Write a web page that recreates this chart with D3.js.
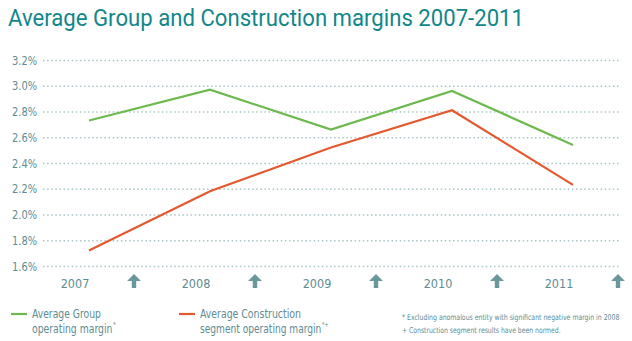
<!DOCTYPE html>
<html>
<head>
<meta charset="utf-8">
<script src="https://cdn.jsdelivr.net/npm/d3@7"></script>
<style>
  body { margin: 0; background: #fff; }
  text { font-family: "DejaVu Sans Condensed", "Roboto", sans-serif; }
</style>
</head>
<body>
<script>
// chart data
var years = ["2007", "2008", "2009", "2010", "2011"];
var groupMargin = [2.73, 2.97, 2.66, 2.96, 2.54];
var constructionMargin = [1.72, 2.18, 2.52, 2.81, 2.23];
var yTicks = [1.6, 1.8, 2.0, 2.2, 2.4, 2.6, 2.8, 3.0, 3.2];

var w = 632, h = 341;
var teal = "#5e8c92";

var svg = d3.select("body").append("svg")
    .attr("width", w)
    .attr("height", h);

// squeeze a text horizontally to a given width (condensed look)
function fit(sel, x0, y0, width) {
    sel.each(function(d) {
        var t = d3.select(this);
        var wd = typeof width === "function" ? width(d) : width;
        var k = wd / this.getComputedTextLength();
        t.attr("x", 0).attr("y", 0)
         .attr("transform", "translate(" + x0 + "," + y0 + ") scale(" + k + ",1)");
    });
}

// title
svg.append("text")
    .attr("x", 8)
    .attr("y", 26)
    .attr("font-size", "23px")
    .attr("fill", "#12878a")
    .style("font-family", "Roboto, sans-serif")
    .attr("textLength", 516)
    .attr("lengthAdjust", "spacingAndGlyphs")
    .text("Average Group and Construction margins 2007-2011");

var x = d3.scalePoint().domain(years).range([89, 573]);
var y = d3.scaleLinear().domain([1.6, 3.2]).range([266, 60]);

// gridlines + labels
var yAxis = svg.append("g")
    .attr("transform", "translate(43,0)")
    .call(d3.axisLeft(y)
        .tickValues(yTicks)
        .tickSize(-578)
        .tickPadding(6)
        .tickFormat(function(d) { return d3.format(".1f")(d) + "%"; }));
yAxis.select(".domain").remove();
yAxis.selectAll(".tick line")
    .attr("stroke", "#a9c6c8")
    .attr("stroke-width", 1.5)
    .attr("stroke-dasharray", "1.5,2.6");
yAxis.selectAll(".tick text")
    .attr("fill", teal)
    .attr("font-size", "12.5px")
    .attr("textLength", 25)
    .attr("lengthAdjust", "spacingAndGlyphs");

// year labels
svg.selectAll(".year")
    .data(years)
    .enter()
    .append("text")
    .attr("class", "year")
    .attr("x", function(d) { return x(d) - 14; })
    .attr("y", 288)
    .attr("text-anchor", "middle")
    .attr("font-size", "12.5px")
    .attr("fill", teal)
    .text(function(d) { return d; });

// arrows
svg.selectAll(".arrow")
    .data(years)
    .enter()
    .append("path")
    .attr("class", "arrow")
    .attr("transform", function(d) { return "translate(" + (x(d) + 45) + ",274)"; })
    .attr("d", "M0,0 L7,7 L2.2,7 L2.2,14 L-2.2,14 L-2.2,7 L-7,7 Z")
    .attr("fill", "#6a979b");

// lines
var line = d3.line()
    .x(function(d, i) { return x(years[i]); })
    .y(function(d) { return y(d); });

svg.append("path")
    .datum(groupMargin)
    .attr("d", line)
    .attr("fill", "none")
    .attr("stroke", "#6cb94d")
    .attr("stroke-width", 2.2);

svg.append("path")
    .datum(constructionMargin)
    .attr("d", line)
    .attr("fill", "none")
    .attr("stroke", "#e3592d")
    .attr("stroke-width", 2.2);

// legend
var legend = [
    { x: 11, color: "#6cb94d", l1: "Average Group", w1: 69, l2: "operating margin", w2: 83, sup: "*" },
    { x: 179, color: "#e3592d", l1: "Average Construction", w1: 101, l2: "segment operating margin", w2: 128, sup: "*+" }
];
var lg = svg.selectAll(".legend")
    .data(legend)
    .enter()
    .append("g")
    .attr("class", "legend")
    .attr("transform", function(d) { return "translate(" + d.x + ",0)"; });
lg.append("line")
    .attr("x1", 0).attr("x2", 16)
    .attr("y1", 314).attr("y2", 314)
    .attr("stroke", function(d) { return d.color; })
    .attr("stroke-width", 2.2);
lg.append("text")
    .attr("font-size", "13px")
    .attr("fill", teal)
    .text(function(d) { return d.l1; })
    .call(fit, 21, 318, function(d) { return d.w1; });
var t2 = lg.append("text")
    .attr("font-size", "13px")
    .attr("fill", teal);
t2.append("tspan").text(function(d) { return d.l2; });
t2.append("tspan")
    .attr("dx", 1)
    .attr("dy", -6)
    .attr("font-size", "7px")
    .text(function(d) { return d.sup; });
t2.call(fit, 21, 333, function(d) { return d.w2; });

// footnotes
svg.append("text")
    .attr("font-size", "8px")
    .attr("fill", teal)
    .text("* Excluding anomalous entity with significant negative margin in 2008")
    .call(fit, 402, 320, 218);
svg.append("text")
    .attr("font-size", "8px")
    .attr("fill", teal)
    .text("+  Construction segment results have been normed.")
    .call(fit, 402, 333, 159);
</script>
</body>
</html>
